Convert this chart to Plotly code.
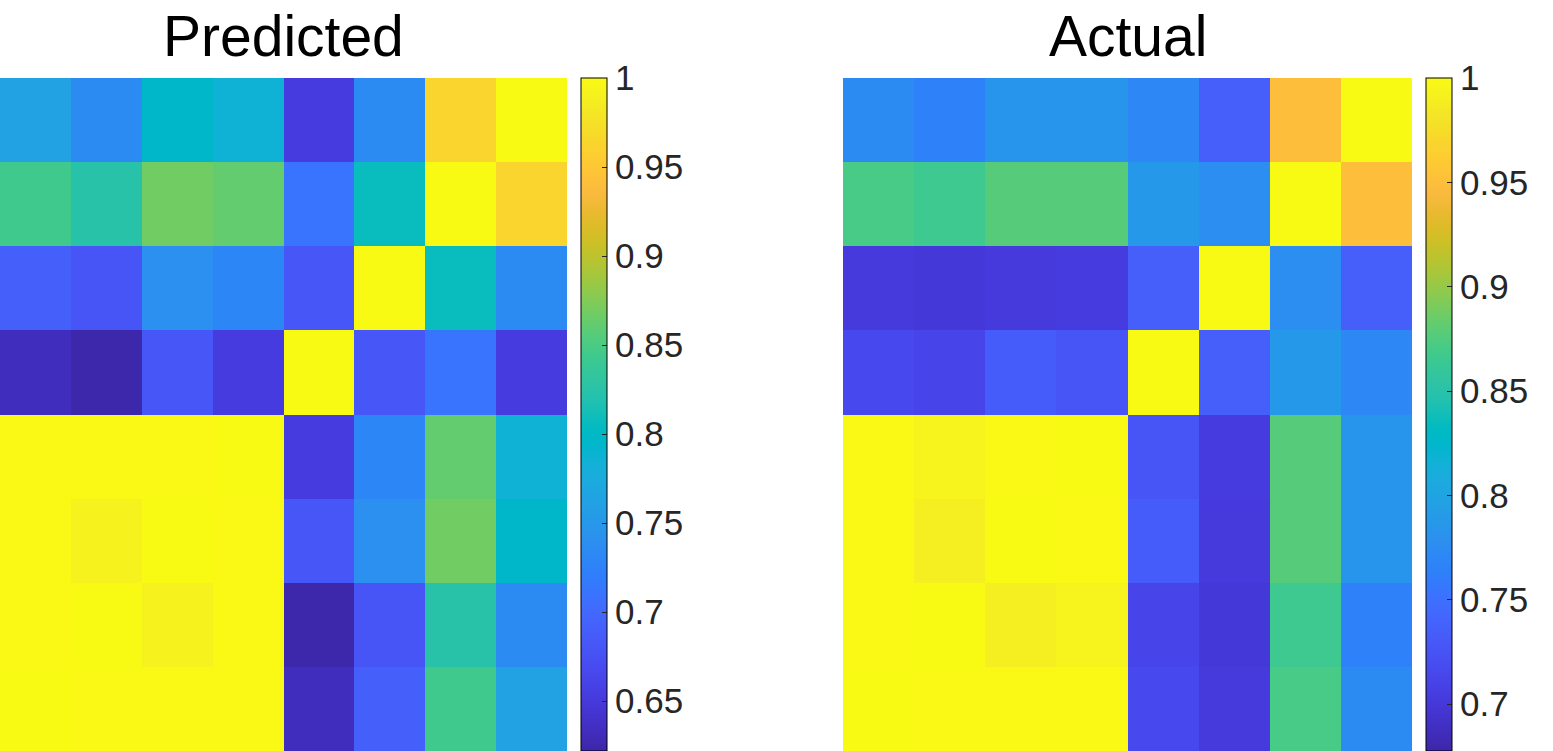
import plotly.graph_objects as go

# variables 1..8 (columns left->right, rows bottom->top)
labels = [1, 2, 3, 4, 5, 6, 7, 8]

# predicted correlation matrix, row i = variable i
predicted = [
    [1.000, 0.999, 0.999, 0.999, 0.633, 0.690, 0.845, 0.762],
    [0.999, 1.000, 0.991, 0.999, 0.623, 0.679, 0.824, 0.735],
    [0.999, 0.991, 1.000, 0.999, 0.682, 0.741, 0.868, 0.796],
    [0.999, 0.999, 0.999, 1.000, 0.652, 0.730, 0.862, 0.785],
    [0.633, 0.623, 0.682, 0.652, 1.000, 0.681, 0.711, 0.652],
    [0.690, 0.679, 0.741, 0.730, 0.681, 1.000, 0.807, 0.735],
    [0.845, 0.824, 0.868, 0.862, 0.711, 0.807, 1.000, 0.964],
    [0.762, 0.735, 0.796, 0.785, 0.652, 0.735, 0.964, 1.000],
]

actual = [
    [1.000, 0.999, 0.999, 0.999, 0.716, 0.702, 0.871, 0.774],
    [0.999, 1.000, 0.989, 0.994, 0.712, 0.700, 0.866, 0.765],
    [0.999, 0.989, 1.000, 0.999, 0.733, 0.702, 0.877, 0.784],
    [0.999, 0.994, 0.999, 1.000, 0.727, 0.703, 0.877, 0.784],
    [0.716, 0.712, 0.733, 0.727, 1.000, 0.735, 0.787, 0.771],
    [0.702, 0.700, 0.702, 0.703, 0.735, 1.000, 0.777, 0.735],
    [0.871, 0.866, 0.877, 0.877, 0.787, 0.777, 1.000, 0.950],
    [0.774, 0.765, 0.784, 0.784, 0.771, 0.735, 0.950, 1.000],
]

pred_ticks = [0.65, 0.7, 0.75, 0.8, 0.85, 0.9, 0.95, 1]
pred_ticktext = ["0.65", "0.7", "0.75", "0.8", "0.85", "0.9", "0.95", "1"]
act_ticks = [0.7, 0.75, 0.8, 0.85, 0.9, 0.95, 1]
act_ticktext = ["0.7", "0.75", "0.8", "0.85", "0.9", "0.95", "1"]

# matlab parula (64)
parula = [
    (0.2422, 0.1504, 0.6603), (0.2504, 0.1650, 0.7076), (0.2578, 0.1818, 0.7511), (0.2647, 0.1978, 0.7952),
    (0.2706, 0.2147, 0.8364), (0.2751, 0.2342, 0.8710), (0.2783, 0.2559, 0.8991), (0.2803, 0.2782, 0.9221),
    (0.2813, 0.3006, 0.9414), (0.2810, 0.3228, 0.9579), (0.2795, 0.3447, 0.9717), (0.2760, 0.3667, 0.9829),
    (0.2699, 0.3892, 0.9906), (0.2602, 0.4123, 0.9952), (0.2440, 0.4358, 0.9988), (0.2206, 0.4603, 0.9973),
    (0.1963, 0.4847, 0.9892), (0.1834, 0.5074, 0.9798), (0.1786, 0.5289, 0.9682), (0.1764, 0.5499, 0.9520),
    (0.1687, 0.5703, 0.9359), (0.1540, 0.5902, 0.9218), (0.1460, 0.6091, 0.9079), (0.1380, 0.6276, 0.8973),
    (0.1248, 0.6459, 0.8883), (0.1113, 0.6635, 0.8763), (0.0952, 0.6798, 0.8598), (0.0689, 0.6948, 0.8394),
    (0.0297, 0.7082, 0.8163), (0.0036, 0.7203, 0.7917), (0.0067, 0.7312, 0.7660), (0.0433, 0.7411, 0.7394),
    (0.0964, 0.7500, 0.7120), (0.1408, 0.7584, 0.6842), (0.1717, 0.7670, 0.6554), (0.1938, 0.7758, 0.6251),
    (0.2161, 0.7843, 0.5923), (0.2470, 0.7918, 0.5567), (0.2906, 0.7973, 0.5188), (0.3406, 0.8008, 0.4789),
    (0.3909, 0.8029, 0.4354), (0.4456, 0.8024, 0.3909), (0.5044, 0.7993, 0.3480), (0.5616, 0.7942, 0.3045),
    (0.6174, 0.7876, 0.2612), (0.6720, 0.7793, 0.2227), (0.7242, 0.7698, 0.1910), (0.7738, 0.7598, 0.1646),
    (0.8203, 0.7498, 0.1535), (0.8634, 0.7406, 0.1596), (0.9035, 0.7330, 0.1774), (0.9393, 0.7288, 0.2100),
    (0.9728, 0.7298, 0.2394), (0.9956, 0.7434, 0.2371), (0.9970, 0.7659, 0.2199), (0.9952, 0.7893, 0.2028),
    (0.9892, 0.8136, 0.1885), (0.9786, 0.8386, 0.1766), (0.9676, 0.8639, 0.1643), (0.9610, 0.8890, 0.1537),
    (0.9597, 0.9135, 0.1423), (0.9628, 0.9373, 0.1265), (0.9691, 0.9606, 0.1064), (0.9769, 0.9839, 0.0805),
]
colorscale = [[i / 63, "rgb(%d,%d,%d)" % (r * 255, g * 255, b * 255)] for i, (r, g, b) in enumerate(parula)]

W, H = 1553, 751
font = "Liberation Sans, Arial, sans-serif"


def cbar(x, ticks, text):
    return dict(
        x=x, xanchor="left", y=0, yanchor="bottom", len=1 - 78 / H,
        thickness=26, thicknessmode="pixels", lenmode="fraction",
        outlinewidth=1, outlinecolor="black",
        ticks="inside", ticklen=5, tickcolor="#262626",
        tickvals=ticks, ticktext=text,
        tickfont=dict(family=font, size=35, color="#262626"),
        ypad=0, xpad=0,
    )


fig = go.Figure()
fig.add_trace(go.Heatmap(z=predicted, x=labels, y=labels, colorscale=colorscale,
                         zmin=0.622, zmax=1, xaxis="x", yaxis="y",
                         colorbar=cbar(581 / W, pred_ticks, pred_ticktext)))
fig.add_trace(go.Heatmap(z=actual, x=labels, y=labels, colorscale=colorscale,
                         zmin=0.6775, zmax=1, xaxis="x2", yaxis="y2",
                         colorbar=cbar(1426 / W, act_ticks, act_ticktext)))

ax = dict(showticklabels=False, showgrid=False, zeroline=False, ticks="")
fig.update_layout(
    width=W, height=H,
    margin=dict(l=0, r=0, t=0, b=0, autoexpand=False),
    paper_bgcolor="white", plot_bgcolor="white",
    xaxis=dict(domain=[0, 567 / W], **ax),
    yaxis=dict(domain=[0, 1 - 78 / H], **ax),
    xaxis2=dict(domain=[843 / W, 1412 / W], **ax),
    yaxis2=dict(domain=[0, 1 - 78 / H], **ax),
    annotations=[
        dict(text="Predicted", x=283.5 / W, y=1 - 36 / H, xref="paper", yref="paper",
             xanchor="center", yanchor="middle", showarrow=False,
             font=dict(family=font, size=57, color="black")),
        dict(text="Actual", x=1127.5 / W, y=1 - 36 / H, xref="paper", yref="paper",
             xanchor="center", yanchor="middle", showarrow=False,
             font=dict(family=font, size=57, color="black")),
    ],
)

# drop the browser's default body margin so the figure sits at the page corner
fig.write_html("out.html", config={"displayModeBar": False},
               post_script="document.body.style.margin = '0px';")
